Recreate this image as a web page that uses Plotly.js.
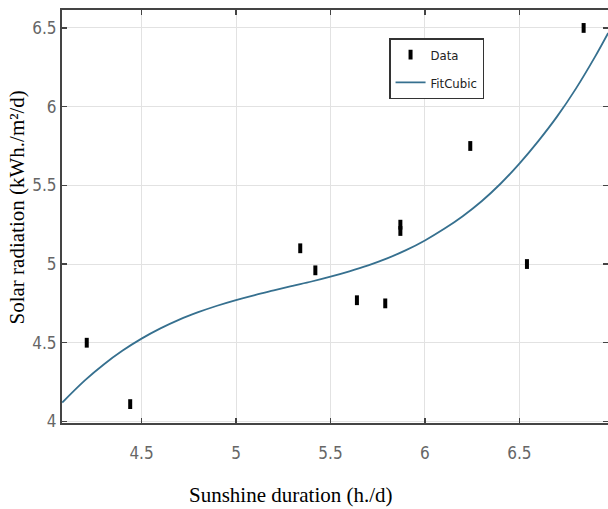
<!DOCTYPE html>
<html>
<head>
<meta charset="utf-8">
<script src="https://cdn.plot.ly/plotly-3.0.1.min.js"></script>
<style>
  html, body { margin: 0; padding: 0; background: #ffffff; }
  #chart { width: 608px; height: 509px; }
</style>
</head>
<body>
<div id="chart"></div>
<script>
// Measured sunshine duration (h/d) and solar radiation (kWh/m²/d)
const sunshineHours = [4.21, 4.44, 5.34, 5.42, 5.64, 5.79, 5.87, 5.87, 6.24, 6.54, 6.84];
const solarRadiation = [4.50, 4.11, 5.10, 4.96, 4.77, 4.75, 5.25, 5.21, 5.75, 5.00, 6.50];

// Cubic fit curve, sampled every 0.1 h across the x range
const fitHours = [4.08, 4.2, 4.3, 4.4, 4.5, 4.6, 4.7, 4.8, 4.9, 5.0, 5.1, 5.2, 5.3, 5.4, 5.5,
                  5.6, 5.7, 5.8, 5.9, 6.0, 6.1, 6.2, 6.3, 6.4, 6.5, 6.6, 6.7, 6.8, 6.9, 6.97];
const fitRadiation = [4.120, 4.261, 4.362, 4.450, 4.526, 4.591, 4.647, 4.694, 4.735, 4.771,
                      4.803, 4.832, 4.861, 4.889, 4.920, 4.954, 4.992, 5.036, 5.088, 5.150,
                      5.222, 5.304, 5.399, 5.510, 5.638, 5.781, 5.938, 6.116, 6.316, 6.468];

// Axis ticks
const xTickVals = [4.5, 5, 5.5, 6, 6.5];
const xTickText = ['4.5', '5', '5.5', '6', '6.5'];
const yTickVals = [4, 4.5, 5, 5.5, 6, 6.5];
const yTickText = ['4', '4.5', '5', '5.5', '6', '6.5'];

const narrowFont = '"Liberation Sans Narrow", "Arial Narrow", "DejaVu Sans Condensed", sans-serif';
const serifFont = '"Liberation Serif", "Times New Roman", serif';

const traces = [
  {
    x: sunshineHours,
    y: solarRadiation,
    type: 'scatter',
    mode: 'markers',
    name: 'Data',
    legendgroup: 'data',
    marker: {
      symbol: 'line-ns',
      size: 7,
      color: '#000000',
      line: { color: '#000000', width: 4 }
    },
    hoverinfo: 'x+y'
  },
  {
    x: fitHours,
    y: fitRadiation,
    type: 'scatter',
    mode: 'lines',
    name: 'FitCubic',
    legendgroup: 'fit',
    line: { color: '#36708f', width: 1.8, shape: 'spline', smoothing: 1 },
    hoverinfo: 'x+y'
  }
];

const axisCommon = {
  showgrid: true,
  gridcolor: '#e2e2e2',
  gridwidth: 1,
  zeroline: false,
  showline: true,
  linecolor: '#444444',
  linewidth: 2,
  mirror: 'ticks',
  ticks: 'inside',
  ticklen: 5,
  tickwidth: 1.5,
  tickcolor: '#444444',
  tickfont: { family: narrowFont, size: 17, color: '#666666' }
};

const layout = {
  width: 608,
  height: 509,
  margin: { l: 62, r: 0, t: 10, b: 86 },
  paper_bgcolor: '#ffffff',
  plot_bgcolor: '#ffffff',
  showlegend: true,
  legend: {
    x: 0.599,
    y: 0.932,
    xanchor: 'left',
    yanchor: 'top',
    bgcolor: '#ffffff',
    bordercolor: '#333333',
    borderwidth: 1.5,
    tracegroupgap: 8,
    font: { family: narrowFont, size: 13, color: '#222222' }
  },
  xaxis: Object.assign({}, axisCommon, {
    range: [4.079, 6.969],
    tickvals: xTickVals,
    ticktext: xTickText,
    ticklabelstandoff: 14
  }),
  yaxis: Object.assign({}, axisCommon, {
    range: [3.99, 6.614],
    tickvals: yTickVals,
    ticktext: yTickText
  }),
  annotations: [
    {
      text: 'Sunshine duration (h./d)',
      xref: 'paper', yref: 'paper',
      x: 0.4203, y: -0.174,
      xanchor: 'center', yanchor: 'middle',
      showarrow: false,
      font: { family: serifFont, size: 21, color: '#000000' }
    },
    {
      text: 'Solar radiation (kWh./m²/d)',
      xref: 'paper', yref: 'paper',
      x: -0.0806, y: 0.5218,
      xanchor: 'center', yanchor: 'middle',
      textangle: -90,
      showarrow: false,
      font: { family: serifFont, size: 21, color: '#000000' }
    }
  ]
};

Plotly.newPlot('chart', traces, layout, { displayModeBar: false, staticPlot: true });
</script>
</body>
</html>
